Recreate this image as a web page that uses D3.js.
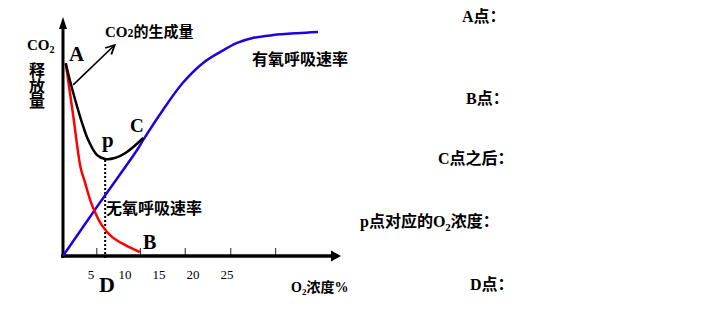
<!DOCTYPE html>
<html>
<head>
<meta charset="utf-8">
<script src="https://cdn.jsdelivr.net/npm/d3@7"></script>
<style>
  body { margin: 0; background: #fff; }
  text { font-family: "Liberation Serif", "Noto Sans CJK SC", serif; }
</style>
</head>
<body>
<div id="chart"></div>
<script>
// O2 浓度 (%) vs CO2 释放量 (相对值)
const o2TickMarks = [4.9, 11.3, 17.9, 24.6, 31.2];
const o2TickLabels = [5, 10, 15, 20, 25];

// 有氧呼吸速率
const aerobic = [[0, 0], [5.4, 22.5], [10.9, 44.9], [11.8, 49.2], [14.7, 61.9], [17.6, 73.3],
  [20.6, 81.8], [23.1, 86.4], [25.6, 90.3], [27.9, 92.4], [30.9, 93.6], [34.4, 94.4], [37.5, 94.9]];
// 无氧呼吸速率
const anaerobic = [[0.4, 81.7], [1.5, 59.5], [2.6, 37.3], [3.2, 31.5], [4.0, 23.7], [4.7, 18.6],
  [5.7, 13.1], [7.2, 8.1], [9.1, 4.7], [11.3, 1.7]];
// CO2的生成量
const co2Total = [[0.4, 81.7], [1.0, 74.6], [1.8, 66.1], [2.8, 56.4], [3.7, 49.2], [5.0, 42.8],
  [6.2, 41.1], [7.6, 41.5], [9.4, 44.1], [11.8, 50.0]];

const pointP = [6.2, 41.1];
const arrowLine = [[1.5, 72.5], [7.6, 89.4]];

const svg = d3.select('#chart').append('svg').attr('width', 726).attr('height', 319);

const x = d3.scaleLinear().domain([0, 40]).range([63, 335]);
const y = d3.scaleLinear().domain([0, 100]).range([256, 20]);

const defs = svg.append('defs');
defs.append('marker').attr('id', 'open').attr('viewBox', '0 0 10 10')
  .attr('refX', 9).attr('refY', 5).attr('markerWidth', 7).attr('markerHeight', 7)
  .attr('orient', 'auto')
  .append('path').attr('d', 'M1,1 L9,5 L1,9').attr('fill', 'none')
  .attr('stroke', 'black').attr('stroke-width', 1.6);

// tick marks
svg.append('g').attr('transform', 'translate(0,256)')
  .call(d3.axisTop(x).tickValues(o2TickMarks).tickSize(8).tickFormat(''))
  .call(g => g.select('.domain').remove())
  .call(g => g.selectAll('line').attr('stroke', '#222').attr('stroke-width', 1));

svg.selectAll('.tlab').data(o2TickLabels).enter().append('text')
  .attr('x', d => x(d) - 6).attr('y', 279)
  .attr('text-anchor', 'middle').style('font-size', '13px')
  .text(d => d);

// axes
svg.append('line').attr('x1', x(0)).attr('x2', x(0)).attr('y1', 258).attr('y2', 26)
  .attr('stroke', 'black').attr('stroke-width', 3);
svg.append('path').attr('d', `M${x(0)},17 L${x(0) - 4},29 L${x(0) + 4},29 Z`).attr('fill', 'black');
svg.append('line').attr('x1', 61).attr('x2', 333).attr('y1', 256).attr('y2', 256)
  .attr('stroke', 'black').attr('stroke-width', 3.5);
svg.append('path').attr('d', 'M341,256 L331,250.5 L331,261.5 Z').attr('fill', 'black');

// D dotted line
svg.append('line').attr('x1', x(pointP[0])).attr('x2', x(pointP[0]))
  .attr('y1', y(pointP[1]) + 1).attr('y2', 259)
  .attr('stroke', 'black').attr('stroke-width', 2).attr('stroke-dasharray', '2,2');

const line = d3.line().x(d => x(d[0])).y(d => y(d[1])).curve(d3.curveCatmullRom.alpha(0.5));

svg.append('path').datum(aerobic).attr('d', line)
  .attr('fill', 'none').attr('stroke', '#2200dd').attr('stroke-width', 2.5);
svg.append('path').datum(anaerobic).attr('d', line)
  .attr('fill', 'none').attr('stroke', '#ff0000').attr('stroke-width', 2.5);
svg.append('path').datum(co2Total).attr('d', line)
  .attr('fill', 'none').attr('stroke', 'black').attr('stroke-width', 2.5);

svg.append('path').datum(arrowLine).attr('d', d3.line().x(d => x(d[0])).y(d => y(d[1])))
  .attr('stroke', 'black').attr('stroke-width', 1.6).attr('marker-end', 'url(#open)');

// labels in chart
const big = (t, px, py, size) => svg.append('text').attr('x', px).attr('y', py)
  .style('font-size', size + 'px').style('font-weight', 'bold').text(t);

big('A', 69, 61, 21);
big('C', 130, 132, 19);
big('p', 102, 147, 21);
big('B', 143, 249, 20);
big('D', 99, 292, 22);

const co2y = svg.append('text').attr('x', 27).attr('y', 50).style('font-size', '15px').style('font-weight', 'bold');
co2y.append('tspan').text('CO');
co2y.append('tspan').attr('dy', 3).style('font-size', '10px').text('2');

['释', '放', '量'].forEach((c, i) => {
  svg.append('text').attr('x', 37).attr('y', 76 + i * 15.5).attr('text-anchor', 'middle')
    .style('font-size', '16px').style('font-weight', 'bold').text(c);
});

const gen = svg.append('text').attr('x', 105).attr('y', 37).style('font-size', '15px').style('font-weight', 'bold');
gen.append('tspan').text('CO');
gen.append('tspan').style('font-size', '12px').text('2');
gen.append('tspan').text('的生成量');

svg.append('text').attr('x', 252).attr('y', 65).style('font-size', '16px').style('font-weight', 'bold').text('有氧呼吸速率');
svg.append('text').attr('x', 106).attr('y', 214).style('font-size', '16px').style('font-weight', 'bold').text('无氧呼吸速率');

const xl = svg.append('text').attr('x', 291).attr('y', 292).style('font-size', '14px').style('font-weight', 'bold');
xl.append('tspan').text('O');
xl.append('tspan').attr('dy', 3).style('font-size', '9px').text('2');
xl.append('tspan').attr('dy', -3).text('浓度%');

// right side questions
const qs = [['A点：', 462, 22], ['B点：', 466, 104], ['C点之后：', 438, 164]];
qs.forEach(q => big(q[0], q[1], q[2], 16));
const pq = svg.append('text').attr('x', 360).attr('y', 227).style('font-size', '16px').style('font-weight', 'bold');
pq.append('tspan').text('p点对应的O');
pq.append('tspan').attr('dy', 4).style('font-size', '11px').text('2');
pq.append('tspan').attr('dy', -4).text('浓度：');
big('D点：', 470, 290, 16);
</script>
</body>
</html>
